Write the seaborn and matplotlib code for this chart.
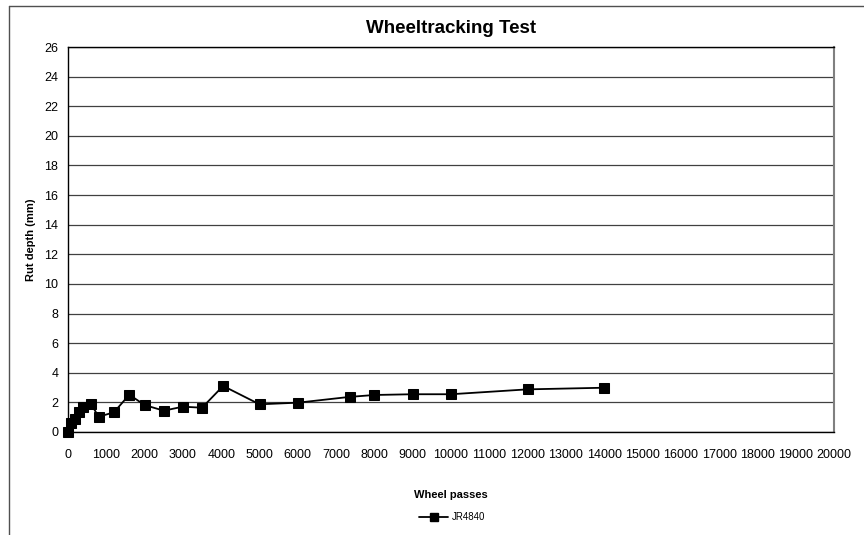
import pandas as pd
import matplotlib
matplotlib.use("Agg")
import matplotlib.pyplot as plt
from matplotlib.lines import Line2D
import seaborn as sns

# values
passes = [0, 70, 180, 300, 380, 600, 800, 1200, 1600, 2000, 2500, 3000, 3500,
          4050, 5000, 6000, 7350, 8000, 9000, 10000, 12000, 14000]
rut = [0, 0.63, 0.86, 1.37, 1.71, 1.9, 1.03, 1.33, 2.52, 1.82, 1.44, 1.71, 1.64,
       3.11, 1.87, 1.98, 2.37, 2.5, 2.55, 2.55, 2.88, 2.99]
series = "JR4840"

df = pd.DataFrame({"Wheel passes": passes, "Rut depth (mm)": rut, "Sample": series})

sns.set_style("white")
plt.rcParams["font.family"] = ["Liberation Sans", "DejaVu Sans"]
plt.rcParams["text.color"] = "black"
plt.rcParams["axes.labelcolor"] = "black"
plt.rcParams["xtick.color"] = "black"
plt.rcParams["ytick.color"] = "black"

fig = plt.figure(figsize=(8.64, 5.35), dpi=100)
ax = fig.add_axes([68 / 864, 1 - 432 / 535, (834 - 68) / 864, (432 - 47) / 535])

sns.lineplot(data=df, x="Wheel passes", y="Rut depth (mm)", hue="Sample",
             palette=["black"], marker="s", markersize=7, markeredgecolor="black",
             linewidth=1.3, ax=ax, legend=False, clip_on=False, zorder=5)

ax.set_xlim(0, 20000)
ax.set_ylim(0, 26)
ax.set_xticks(range(0, 20001, 1000))
ax.set_yticks(range(0, 27, 2))
ax.tick_params(axis="both", labelsize=9, length=4, width=0.8, direction="out",
               color="black", labelcolor="black", pad=3)
ax.tick_params(axis="x", pad=8)
ax.grid(axis="y", color="#404040", linewidth=0.9)
ax.grid(axis="x", visible=False)
ax.set_axisbelow(True)

for side in ["left", "bottom", "top"]:
    ax.spines[side].set_color("black")
    ax.spines[side].set_linewidth(1.0)
ax.spines["right"].set_color("#808080")
ax.spines["right"].set_linewidth(1.5)

ax.set_xlabel("Wheel passes", fontsize=8, fontweight="bold", labelpad=21)
ax.set_ylabel("Rut depth (mm)", fontsize=8, fontweight="bold", labelpad=6)
ax.set_title("Wheeltracking Test", fontsize=13.5, fontweight="bold", pad=10)

handle = Line2D([], [], color="black", marker="s", markersize=6, linewidth=1.3)
fig.legend([handle], [series], loc="center", bbox_to_anchor=(452 / 864, 1 - 517 / 535),
           frameon=False, fontsize=7, handlelength=3, handletextpad=0.3)

# outer chart frame (left and top edges)
fig.add_artist(Line2D([9 / 864, 9 / 864], [0, 1 - 6 / 535], color="#505050",
                      linewidth=1, transform=fig.transFigure))
fig.add_artist(Line2D([9 / 864, 1], [1 - 6 / 535, 1 - 6 / 535], color="#505050",
                      linewidth=1, transform=fig.transFigure))

fig.savefig("out.png", dpi=100)
